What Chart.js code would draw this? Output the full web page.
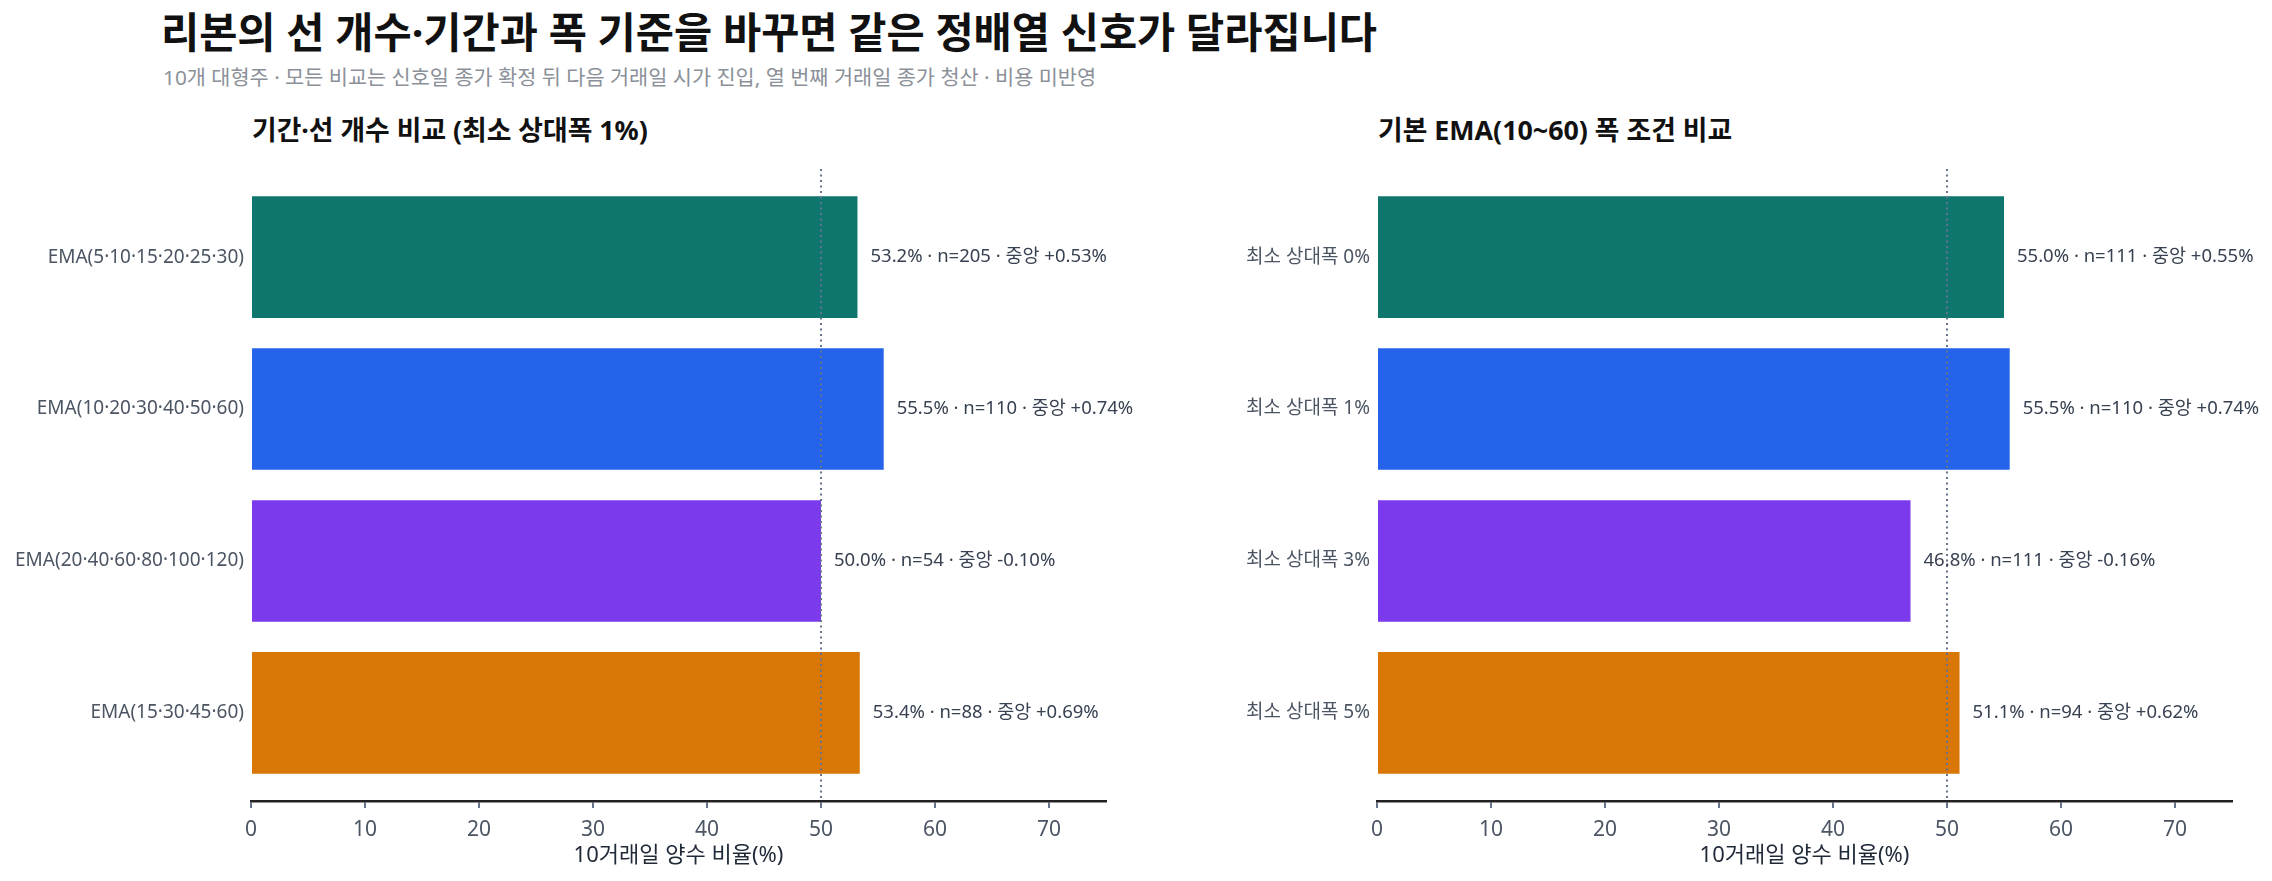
<!DOCTYPE html>
<html lang="ko">
<head>
<meta charset="utf-8">
<title>EMA 리본 비교</title>
<script src="https://cdn.jsdelivr.net/npm/chart.js@4.4.1/dist/chart.umd.min.js"></script>
<style>
  html, body { margin: 0; padding: 0; background: #fff; }
  body { width: 2272px; height: 881px; position: relative; overflow: hidden;
         font-family: "Noto Sans", "Noto Sans CJK KR", sans-serif; }
  .txt { position: absolute; white-space: nowrap; line-height: 1; }
  #title { left: 161px; top: 12px; font-size: 41.5px; font-weight: 700; color: #111; }
  #subtitle { left: 163px; top: 67px; font-size: 20.8px; color: #8b9099; }
  .panel-title { top: 117px; font-size: 26.8px; font-weight: 700; color: #111; }
  #pt-left { left: 252px; }
  #pt-right { left: 1378px; }
  .box { position: absolute; top: 150px; width: 1136px; height: 731px; }
  #box-left { left: 0; }
  #box-right { left: 1136px; }
</style>
</head>
<body>
<div id="title" class="txt">리본의 선 개수·기간과 폭 기준을 바꾸면 같은 정배열 신호가 달라집니다</div>
<div id="subtitle" class="txt">10개 대형주 · 모든 비교는 신호일 종가 확정 뒤 다음 거래일 시가 진입, 열 번째 거래일 종가 청산 · 비용 미반영</div>
<div id="pt-left" class="txt panel-title">기간·선 개수 비교 (최소 상대폭 1%)</div>
<div id="pt-right" class="txt panel-title">기본 EMA(10~60) 폭 조건 비교</div>
<div id="box-left" class="box"><canvas id="chartLeft"></canvas></div>
<div id="box-right" class="box"><canvas id="chartRight"></canvas></div>

<script>
  // --- data ---
  const barColors = ["#0f766e", "#2563eb", "#7c3aed", "#d97706"];

  const periodLabels = [
    "EMA(5·10·15·20·25·30)",
    "EMA(10·20·30·40·50·60)",
    "EMA(20·40·60·80·100·120)",
    "EMA(15·30·45·60)",
  ];
  const periodWinRate = [53.2, 55.5, 50.0, 53.4];
  const periodCount = [205, 110, 54, 88];
  const periodMedian = [0.53, 0.74, -0.1, 0.69];

  const widthLabels = ["최소 상대폭 0%", "최소 상대폭 1%", "최소 상대폭 3%", "최소 상대폭 5%"];
  const widthWinRate = [55.0, 55.5, 46.8, 51.1];
  const widthCount = [111, 110, 111, 94];
  const widthMedian = [0.55, 0.74, -0.16, 0.62];

  const xTicks = [0, 10, 20, 30, 40, 50, 60, 70];
  const xMax = 75;
  const refLine = 50;
  const xTitle = "10거래일 양수 비율(%)";

  const FONT = '"Noto Sans", "Noto Sans CJK KR", sans-serif';

  function fmtSigned(v) {
    const s = Math.abs(v).toFixed(2);
    return (v < 0 ? "-" : "+") + s + "%";
  }

  // dotted 50% line + text at the end of each bar
  const overlayPlugin = {
    id: "overlay",
    afterDatasetsDraw(chart, args, opts) {
      const { ctx, chartArea } = chart;
      const xs = chart.scales.x;
      const x50 = xs.getPixelForValue(opts.ref);
      ctx.save();
      ctx.strokeStyle = "#64748b";
      ctx.lineWidth = 2;
      ctx.setLineDash([2, 3.5]);
      ctx.beginPath();
      ctx.moveTo(x50, chartArea.top);
      ctx.lineTo(x50, chartArea.bottom);
      ctx.stroke();
      ctx.setLineDash([]);

      ctx.font = "18.5px " + FONT;
      ctx.fillStyle = "#374151";
      ctx.textAlign = "left";
      ctx.textBaseline = "middle";
      const meta = chart.getDatasetMeta(0);
      meta.data.forEach((bar, i) => {
        const txt = opts.rate[i].toFixed(1) + "% · n=" + opts.count[i] + " · 중앙 " + fmtSigned(opts.median[i]);
        ctx.fillText(txt, bar.x + 13, bar.y);
      });
      ctx.restore();
    },
  };

  function makeChart(canvasId, labels, rate, count, median, axisWidth, padRight) {
    const ctx = document.getElementById(canvasId).getContext("2d");
    return new Chart(ctx, {
      type: "bar",
      data: {
        datasets: [
          {
            data: rate.map((v, i) => ({ x: v, y: i })),
            backgroundColor: barColors,
            borderWidth: 0,
            categoryPercentage: 1,
            barPercentage: 0.8,
          },
        ],
      },
      plugins: [overlayPlugin],
      options: {
        indexAxis: "y",
        responsive: true,
        maintainAspectRatio: false,
        animation: false,
        layout: { padding: { top: 19, right: padRight, left: 0, bottom: 0 } },
        plugins: {
          legend: { display: false },
          tooltip: { enabled: false },
          overlay: { ref: refLine, rate, count, median },
        },
        scales: {
          x: {
            type: "linear",
            min: 0,
            max: xMax,
            afterBuildTicks: (s) => { s.ticks = xTicks.map((v) => ({ value: v })); },
            afterFit: (s) => { s.height = 80; },
            grid: { display: true, drawOnChartArea: false, drawTicks: true, tickLength: 7, color: "#64748b", lineWidth: 2 },
            border: { display: true, color: "#222", width: 2.5 },
            ticks: { color: "#4b5563", font: { family: FONT, size: 21 }, padding: 9 },
            title: {
              display: true,
              text: xTitle,
              color: "#1f2937",
              font: { family: FONT, size: 22 },
              padding: { top: 0, bottom: 12 },
            },
          },
          y: {
            type: "linear",
            reverse: true,
            offset: false,
            min: -0.58,
            max: 3.58,
            afterBuildTicks: (s) => { s.ticks = labels.map((_, i) => ({ value: i })); },
            afterFit: (s) => { s.width = axisWidth; },
            grid: { display: false, drawTicks: false },
            border: { display: false },
            ticks: {
              color: "#4b5563",
              font: { family: FONT, size: 19 },
              padding: 7,
              callback: (v) => labels[v],
            },
          },
        },
      },
    });
  }

  makeChart("chartLeft", periodLabels, periodWinRate, periodCount, periodMedian, 251, 30);
  makeChart("chartRight", widthLabels, widthWinRate, widthCount, widthMedian, 241, 40);
</script>
</body>
</html>
